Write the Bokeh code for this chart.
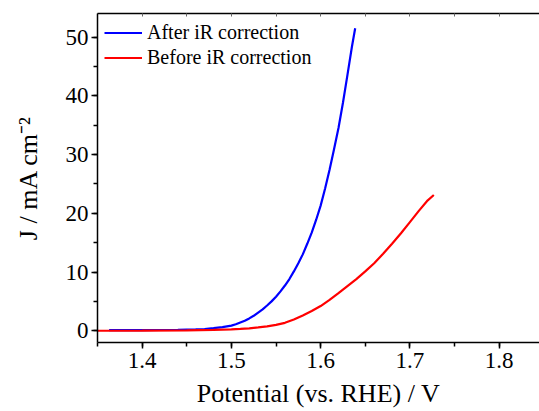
from bokeh.plotting import figure
from bokeh.models import Range1d, LinearAxis, SingleIntervalTicker, Legend, LegendItem
from bokeh.embed import file_html
from bokeh.resources import INLINE

# Data
after_v = [1.363, 1.38, 1.40, 1.42, 1.44, 1.46, 1.47, 1.48, 1.49, 1.50, 1.505, 1.51,
           1.515, 1.52, 1.525, 1.53, 1.535, 1.54, 1.545, 1.55, 1.555, 1.56, 1.565,
           1.57, 1.575, 1.58, 1.585, 1.59, 1.595, 1.60, 1.605, 1.61, 1.615, 1.62,
           1.625, 1.63, 1.635, 1.6387]
after_j = [0.10, 0.10, 0.12, 0.13, 0.16, 0.22, 0.30, 0.45, 0.62, 0.88, 1.1, 1.4,
           1.7, 2.1, 2.55, 3.1, 3.65, 4.3, 5.0, 5.8, 6.7, 7.7, 8.8,
           10.1, 11.5, 13.0, 14.8, 16.7, 18.9, 21.3, 24.2, 27.4, 30.9, 34.5,
           38.8, 43.5, 48.3, 51.5]

before_v = [1.35, 1.40, 1.45, 1.48, 1.50, 1.51, 1.52, 1.53, 1.54, 1.55, 1.56, 1.57,
            1.58, 1.59, 1.60, 1.61, 1.62, 1.63, 1.64, 1.65, 1.66, 1.67, 1.68, 1.69,
            1.70, 1.71, 1.72, 1.7268]
before_j = [0.0, 0.02, 0.08, 0.15, 0.25, 0.33, 0.42, 0.57, 0.75, 1.0, 1.35, 1.9,
            2.6, 3.35, 4.2, 5.25, 6.4, 7.6, 8.8, 10.1, 11.5, 13.1, 14.8, 16.6,
            18.5, 20.4, 22.2, 23.1]

legend_labels = ["After iR correction", "Before iR correction"]
x_label = "Potential (vs. RHE) / V"
y_label = "J / mA cm\u207b\u00b2"

FONT = "Liberation Serif"

p = figure(width=539, height=411, output_backend="svg", toolbar_location=None,
           x_range=Range1d(1.35, 1.8452), y_range=Range1d(-2, 54),
           min_border_left=97, min_border_right=0, min_border_top=13, min_border_bottom=69)
p.outline_line_color = None
p.grid.visible = False
p.background_fill_color = "white"
p.border_fill_color = "white"

r1 = p.line(after_v, after_j, line_color="#0000ff", line_width=2.2)
r2 = p.line(before_v, before_j, line_color="#ff0000", line_width=2.2)

# bottom axis
xa = p.xaxis[0]
xa.ticker = SingleIntervalTicker(interval=0.1, num_minor_ticks=2)
xa.axis_label = x_label
xa.axis_label_text_font = FONT
xa.axis_label_text_font_size = "26px"
xa.axis_label_text_font_style = "normal"
xa.axis_label_text_color = "black"
xa.axis_label_standoff = 8
xa.major_label_text_font = FONT
xa.major_label_text_font_size = "23px"
xa.major_label_text_color = "black"
xa.major_label_standoff = 4
xa.axis_line_width = 1.5
xa.major_tick_line_width = 1.5
xa.minor_tick_line_width = 1.5
xa.major_tick_out = 6
xa.major_tick_in = 0
xa.minor_tick_out = 4
xa.minor_tick_in = 0

# left axis
ya = p.yaxis[0]
ya.ticker = SingleIntervalTicker(interval=10, num_minor_ticks=2)
ya.axis_label = y_label
ya.axis_label_text_font = FONT
ya.axis_label_text_font_size = "26px"
ya.axis_label_text_font_style = "normal"
ya.axis_label_text_color = "black"
ya.axis_label_standoff = 20
ya.major_label_text_font = FONT
ya.major_label_text_font_size = "23px"
ya.major_label_text_color = "black"
ya.major_label_standoff = 3
ya.axis_line_width = 1.5
ya.major_tick_line_width = 1.5
ya.minor_tick_line_width = 1.5
ya.major_tick_out = 6
ya.major_tick_in = 0
ya.minor_tick_out = 4
ya.minor_tick_in = 0

# top axis (frame line with small inward ticks)
top = LinearAxis(ticker=SingleIntervalTicker(interval=0.05, num_minor_ticks=0),
                 major_label_text_font_size="0px", major_label_text_color=None,
                 axis_line_width=1.5, major_tick_in=3, major_tick_out=0,
                 major_tick_line_width=1, major_tick_line_color="#666666",
                 minor_tick_line_color=None)
p.add_layout(top, "above")

# legend
legend = Legend(items=[LegendItem(label=legend_labels[0], renderers=[r1]),
                       LegendItem(label=legend_labels[1], renderers=[r2])],
                location="top_left", border_line_color=None, background_fill_alpha=0,
                label_text_font=FONT, label_text_font_size="20px",
                label_text_color="black",
                glyph_width=38, glyph_height=25, label_height=25, label_standoff=5,
                spacing=0, padding=0, margin=7)
p.add_layout(legend, "center")

open("out.html", "w").write(file_html(p, INLINE))
